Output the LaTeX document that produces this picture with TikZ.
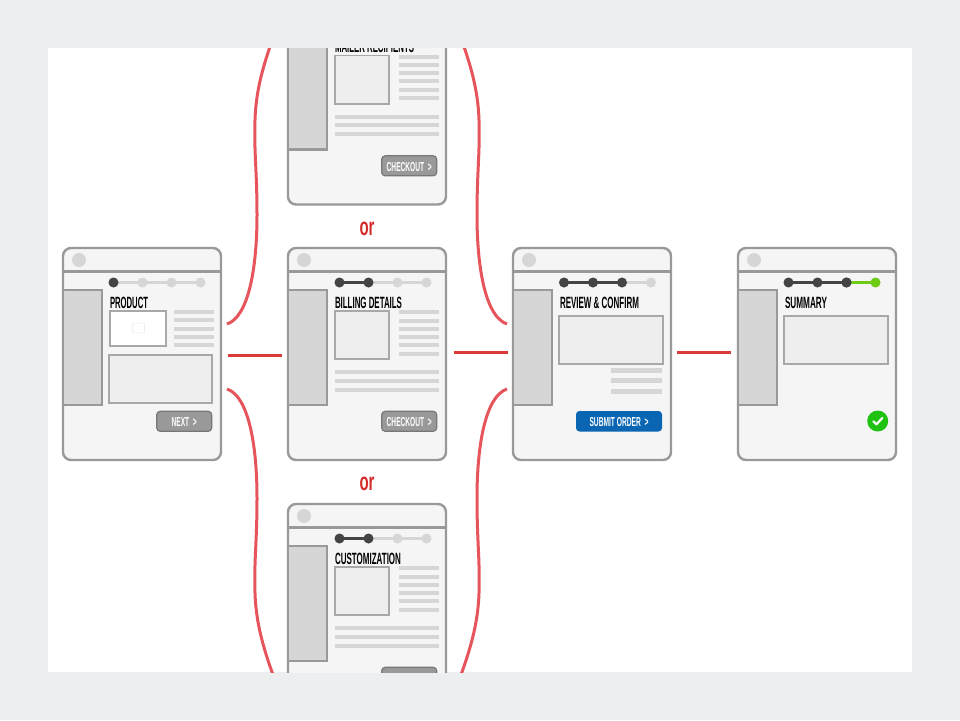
\documentclass[tikz,border=0pt]{standalone}
\usepackage{graphicx}
\usepackage{fontspec}
\setmainfont{Liberation Sans}
\definecolor{pagebg}{HTML}{ECEEF0}
\definecolor{winfill}{HTML}{F5F5F6}
\definecolor{winedge}{HTML}{999999}
\definecolor{boxedge}{HTML}{A8A8A8}
\definecolor{boxfill}{HTML}{EEEEEE}
\definecolor{sidefill}{HTML}{D6D6D6}
\definecolor{linefill}{HTML}{D6D6D6}
\definecolor{dotdark}{HTML}{444444}
\definecolor{dotlight}{HTML}{D6D6D6}
\definecolor{curvered}{HTML}{E5555B}
\definecolor{barred}{HTML}{DB3B36}
\definecolor{orred}{HTML}{D42B2B}
\definecolor{btngray}{HTML}{999999}
\definecolor{btnedge}{HTML}{777777}
\definecolor{btnblue}{HTML}{0A66B2}
\definecolor{stepgreen}{HTML}{6CCB12}
\definecolor{okgreen}{HTML}{1FC210}
\newcommand{\cwtext}[3]{\resizebox{#1pt}{\height}{\fontsize{#2}{#2}\selectfont #3}}
\tikzset{
  x=1pt,y=-1pt,
  winbox/.style={draw=winedge,fill=winfill,line width=2.4pt,rounded corners=8pt},
  divider/.style={draw=winedge,line width=2.2pt},
  sidebar/.style={draw=winedge,fill=sidefill,line width=2.4pt},
  greybox/.style={draw=boxedge,fill=boxfill,line width=1.7pt},
  whitebox/.style={draw=boxedge,fill=white,line width=1.7pt},
  textline/.style={fill=linefill},
  titletext/.style={anchor=base west,inner sep=0pt,outer sep=0pt,text=black},
  btntext/.style={anchor=center,inner sep=0pt,outer sep=0pt,text=white,yshift=-1pt},
  greybtn/.style={draw=btnedge,fill=btngray,line width=1.2pt,rounded corners=3.5pt},
  bluebtn/.style={fill=btnblue,rounded corners=3.5pt},
  curveline/.style={draw=curvered,line width=3pt},
  barline/.style={draw=barred,line width=3pt},
  ortext/.style={inner sep=0pt,outer sep=0pt,text=orred},
}
% frame: id, dx, dy, number of finished steps, stepper nudge
\newcommand{\wframe}[5]{%
  \begin{scope}[shift={(#2,#3)}]
    \node[winbox,anchor=north west,minimum width=158pt,minimum height=212pt,inner sep=0pt,outer sep=0pt] (#1) at (63,248) {};
    \draw[divider] (63,271.5) -- (221,271.5);
    \fill[dotlight] (79,260) circle (7);
    \draw[sidebar] (63,290) rectangle (102,405);
    \begin{scope}[shift={(#5,0)}]
    \draw[dotlight,line width=3pt] (113.5,282.5) -- (200.5,282.5);
    \foreach \k in {0,1,2,3} \fill[dotlight] (113.5+29*\k,282.5) circle (5);
    \foreach \k in {1,...,#4} {
      \draw[dotdark,line width=2.6pt] (113.5,282.5) -- (113.5+29*\k-29,282.5);
      \fill[dotdark] (113.5+29*\k-29,282.5) circle (5);
    }
    \end{scope}
  \end{scope}}
\newcommand{\wtitle}[5]{%
  \begin{scope}[shift={(#2,#3)}]
    \node[titletext] (#1-title) at (110,308.3) {\cwtext{#4}{16.3}{\bfseries #5}};
  \end{scope}}
\newcommand{\wform}[3]{%
  \begin{scope}[shift={(#2,#3)}]
    \draw[greybox] (110,311) rectangle (163.7,359.2);
    \foreach \yy in {312,320.5,328.5,336.5,345,353.5}
      \fill[textline] (173.5,\yy-2) rectangle (214,\yy+2);
    \foreach \yy in {372,380.5,389.5}
      \fill[textline] (109.5,\yy-2) rectangle (214,\yy+2);
    \node[greybtn,anchor=north west,minimum width=55pt,minimum height=20pt,inner sep=0pt,outer sep=0pt] (#1-btn) at (156.7,411.3) {};
    \node[btntext] (#1-btntext) at (#1-btn.center) {\cwtext{45}{13}{\bfseries CHECKOUT \ >}};
  \end{scope}}
\begin{document}
\begin{tikzpicture}
\useasboundingbox (0,0) rectangle (960,720);
\fill[pagebg] (0,0) rectangle (960,720);
\fill[white] (48,48) rectangle (912,672);
\begin{scope}
\clip (48,48) rectangle (912,672);

% connector ends
\coordinate (a1) at (228,355.5);
\coordinate (a2) at (282,355.5);
\coordinate (b1) at (454,352);
\coordinate (b2) at (508,352);
\coordinate (c1) at (677,352);
\coordinate (c2) at (731,352);
\coordinate (tl0) at (227,324);
\coordinate (tl1) at (257,215);
\coordinate (tl2) at (255,120);
\coordinate (tl3) at (276,30);
\coordinate (tr0) at (507,324);
\coordinate (tr1) at (477,215);
\coordinate (tr2) at (479,120);
\coordinate (tr3) at (458,30);
\coordinate (bl0) at (227,389);
\coordinate (bl1) at (257,498);
\coordinate (bl2) at (255,593);
\coordinate (bl3) at (276,683);
\coordinate (br0) at (507,389);
\coordinate (br1) at (477,498);
\coordinate (br2) at (479,593);
\coordinate (br3) at (458,683);

\draw[curveline] (tl0) .. controls (248,317) and (257,270) .. (tl1) .. controls (257,170) and (254,155) .. (tl2) .. controls (256,90) and (263,65) .. (tl3);
\draw[curveline] (tr0) .. controls (486,317) and (477,270) .. (tr1) .. controls (477,170) and (480,155) .. (tr2) .. controls (478,90) and (471,65) .. (tr3);
\draw[curveline] (bl0) .. controls (248,396) and (257,443) .. (bl1) .. controls (257,543) and (254,558) .. (bl2) .. controls (256,623) and (263,648) .. (bl3);
\draw[curveline] (br0) .. controls (486,396) and (477,443) .. (br1) .. controls (477,543) and (480,558) .. (br2) .. controls (478,623) and (471,648) .. (br3);
\draw[barline] (a1) -- (a2);
\draw[barline] (b1) -- (b2);
\draw[barline] (c1) -- (c2);

% product
\wframe{prod}{0}{0}{1}{0}
\wtitle{prod}{0}{0}{38}{PRODUCT}
\draw[whitebox] (110.3,311.3) rectangle (166,346);
\draw[boxfill,line width=.7pt,rounded corners=1pt] (132.5,323) rectangle (144.5,333);
\foreach \yy in {312,320,328.7,336.7,345}
  \fill[textline] (173.5,\yy-2) rectangle (214,\yy+2);
\draw[greybox] (109.3,354.7) rectangle (212.3,403);
\node[greybtn,anchor=north west,minimum width=55pt,minimum height=20pt,inner sep=0pt,outer sep=0pt] (prod-btn) at (156.7,411.3) {};
\node[btntext] (prod-btntext) at (prod-btn.center) {\cwtext{25}{13}{\bfseries NEXT \ >}};

% mailer recipients
\wframe{mail}{225}{-255.5}{2}{1}
\wtitle{mail}{225}{-255.5}{79}{MAILER RECIPIENTS}
\wform{mail}{225}{-255.5}
% billing
\wframe{bill}{225}{0}{2}{1}
\wtitle{bill}{225}{0}{67}{BILLING DETAILS}
\wform{bill}{225}{0}
% customization
\wframe{cust}{225}{256}{2}{1}
\wtitle{cust}{225}{256}{66}{CUSTOMIZATION}
\wform{cust}{225}{256}

% review
\wframe{rev}{450}{0}{3}{0.5}
\wtitle{rev}{450}{0}{79}{REVIEW \& CONFIRM}
\draw[greybox] (559.3,316) rectangle (662.7,364);
\foreach \yy in {370.7,380.5,391}
  \fill[textline] (611,\yy-2.5) rectangle (662,\yy+2.5);
\node[bluebtn,anchor=north west,minimum width=86pt,minimum height=20.5pt,inner sep=0pt,outer sep=0pt] (rev-btn) at (576,411) {};
\node[btntext] (rev-btntext) at (rev-btn.center) {\cwtext{59}{13}{\bfseries SUBMIT ORDER \ >}};

% summary
\wframe{sum}{675}{0}{3}{0}
\draw[stepgreen,line width=3pt] (846.5,282.5) -- (875.5,282.5);
\fill[dotdark] (846.5,282.5) circle (5);
\fill[stepgreen] (875.5,282.5) circle (5);
\wtitle{sum}{675}{0}{42}{SUMMARY}
\draw[greybox] (784.3,316) rectangle (888,364);
\node[circle,fill=okgreen,minimum size=21pt,inner sep=0pt,outer sep=0pt] (ok) at (877.7,421) {};
\draw[white,line width=2.2pt,line cap=round,line join=round] (873.3,421.3) -- (876.5,424.3) -- (882.3,418);

% or labels
\node[ortext] (or1) at (367,229) {\cwtext{15}{25}{\bfseries or}};
\node[ortext] (or2) at (367,483.5) {\cwtext{15}{25}{\bfseries or}};
\end{scope}
\end{tikzpicture}
\end{document}
